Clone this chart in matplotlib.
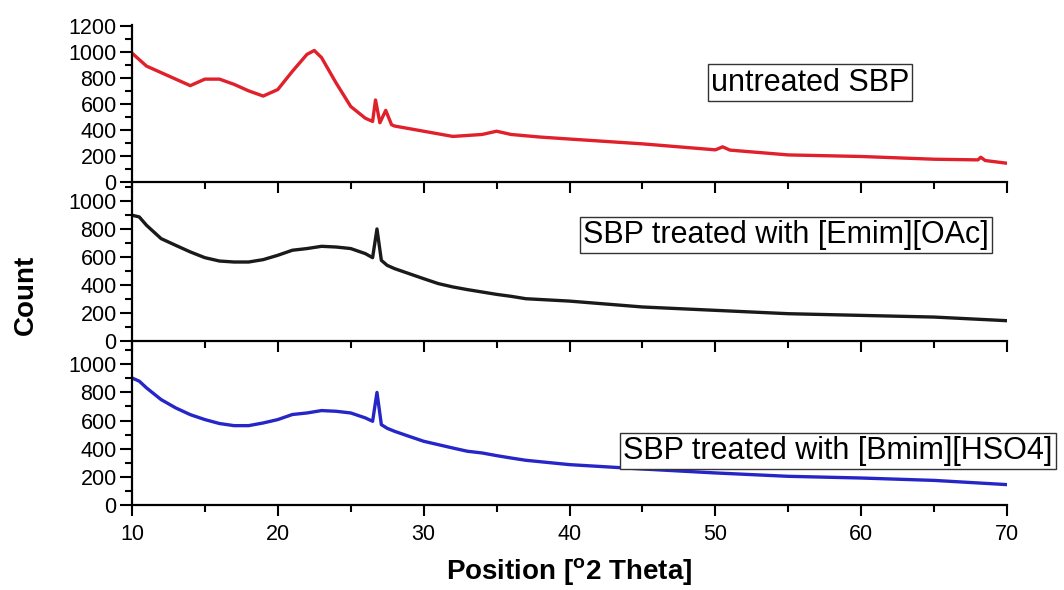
import matplotlib
matplotlib.use("Agg")
import matplotlib.pyplot as plt
from matplotlib.ticker import MultipleLocator

plt.rcParams["font.family"] = ["Liberation Sans", "DejaVu Sans"]
plt.rcParams["mathtext.fontset"] = "custom"
plt.rcParams["mathtext.rm"] = "Liberation Sans"
plt.rcParams["mathtext.bf"] = "Liberation Sans:bold"

# Values (2 theta in degrees, counts)
x_untreated = [10, 11, 12, 13, 14, 15, 16, 17, 18, 19, 20, 21, 22, 22.5, 23, 24, 25, 26,
               26.5, 26.7, 27.0, 27.4, 27.8, 28, 30, 32, 34, 35, 36, 38, 40, 45, 50, 50.5,
               51, 55, 60, 65, 68, 68.2, 68.5, 70]
y_untreated = [990, 890, 840, 790, 740, 790, 790, 750, 700, 660, 710, 850, 980, 1010, 955,
               760, 580, 490, 465, 630, 455, 550, 440, 430, 390, 350, 365, 390, 365, 345,
               330, 293, 247, 270, 245, 208, 196, 175, 170, 190, 165, 144]

x_treated = [10, 10.5, 11, 12, 13, 14, 15, 16, 17, 18, 19, 20, 21, 22, 23, 24, 25, 26, 26.5,
             26.8, 27.1, 27.5, 28, 29, 30, 31, 32, 33, 34, 35, 36, 37, 40, 45, 50, 55, 60,
             65, 70]
y_emim = [898, 886, 826, 731, 683, 636, 595, 571, 564, 564, 581, 612, 648, 660, 676, 671,
          660, 624, 595, 800, 576, 540, 517, 481, 445, 410, 386, 367, 350, 333, 319, 302,
          285, 243, 219, 195, 183, 171, 145]
y_bmim = [903, 880, 832, 749, 690, 642, 607, 579, 564, 564, 583, 607, 643, 654, 671, 666,
          654, 619, 595, 800, 571, 545, 524, 488, 453, 429, 405, 382, 370, 351, 334, 318,
          287, 256, 228, 204, 192, 175, 145]

labels = ["untreated SBP", "SBP treated with [Emim][OAc]", "SBP treated with [Bmim][HSO4]"]
colors = ["#e0202a", "#1a1a1a", "#2626c8"]
ylims = [1205, 1135, 1165]
label_pos = [(0.775, 0.634), (0.747, 0.667), (0.807, 0.332)]

fig = plt.figure(figsize=(10.64, 5.9), dpi=100)
left, width = 0.124, 0.8225
ax_top = fig.add_axes([left, 0.6915, width, 0.266])
ax_mid = fig.add_axes([left, 0.422, width, 0.2695])
ax_bot = fig.add_axes([left, 0.144, width, 0.278])
axes = [ax_top, ax_mid, ax_bot]

series = [(x_untreated, y_untreated), (x_treated, y_emim), (x_treated, y_bmim)]

for i, ax in enumerate(axes):
    xs, ys = series[i]
    ax.plot(xs, ys, color=colors[i], lw=2.4)
    ax.set_xlim(10, 70)
    ax.set_ylim(0, ylims[i])
    ax.patch.set_alpha(0)
    for s in ["top", "right"]:
        ax.spines[s].set_visible(False)
    for s in ["left", "bottom"]:
        ax.spines[s].set_linewidth(1.6)
    ax.xaxis.set_major_locator(MultipleLocator(10))
    ax.xaxis.set_minor_locator(MultipleLocator(5))
    ax.yaxis.set_major_locator(MultipleLocator(200))
    ax.yaxis.set_minor_locator(MultipleLocator(100))
    ax.tick_params(axis="y", which="major", direction="out", length=9, width=1.5, labelsize=15.5, pad=2)
    ax.tick_params(axis="y", which="minor", direction="out", length=5, width=1.5)
    ax.tick_params(axis="x", which="major", direction="out", length=8, width=1.5, labelsize=15.5, pad=6)
    ax.tick_params(axis="x", which="minor", direction="out", length=5, width=1.5)
    if i < 2:
        ax.tick_params(axis="x", labelbottom=False)
    ax.text(label_pos[i][0], label_pos[i][1], labels[i], transform=ax.transAxes,
            ha="center", va="center", fontsize=22,
            bbox=dict(boxstyle="square,pad=0.1", fc="white", ec="#333333", lw=1.0))

ax_top.set_yticks(range(0, 1201, 200))
ax_bot.set_xlabel(r"Position [$^{\mathbf{o}}$2 Theta]", fontsize=20, fontweight="bold", labelpad=8)
fig.text(0.024, 0.50, "Count", rotation=90, ha="center", va="center", fontsize=20, fontweight="bold")

fig.savefig("out.png", dpi=100)
